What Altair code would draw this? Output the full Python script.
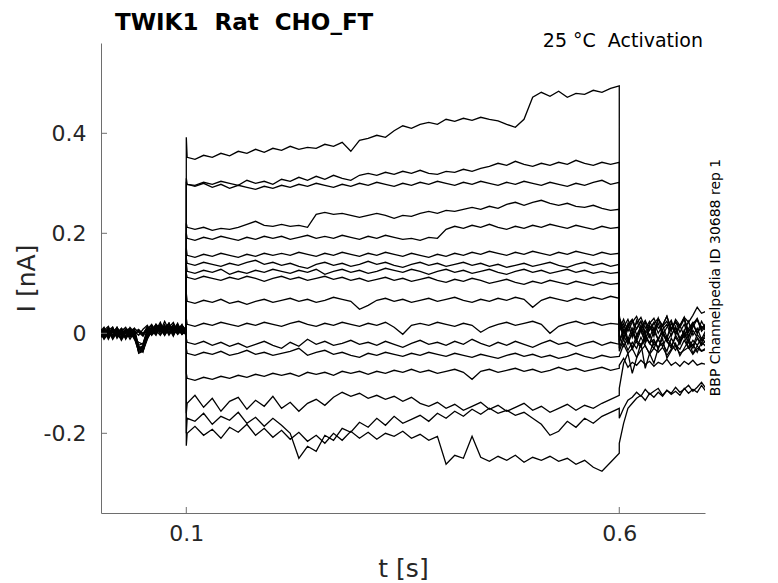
import altair as alt
import pandas as pd

TITLE = "TWIK1\u00a0\u00a0Rat\u00a0\u00a0CHO_FT"
SUBTITLE = "25 \u00b0C\u00a0\u00a0Activation"
SIDE = "BBP Channelpedia ID 30688 rep 1"

X_TICKS = [0.1, 0.6]
Y_TICKS = [-0.2, 0.0, 0.2, 0.4]

# sample times: pre-step (21), step (52), post-step (21)
T_PRE = [0.000, 0.005, 0.010, 0.015, 0.020, 0.025, 0.030, 0.035, 0.040, 0.045, 0.050,
         0.055, 0.060, 0.065, 0.070, 0.075, 0.080, 0.085, 0.090, 0.095, 0.100]
T_STEP = [0.100, 0.101,
          0.11, 0.12, 0.13, 0.14, 0.15, 0.16, 0.17, 0.18, 0.19, 0.20,
          0.21, 0.22, 0.23, 0.24, 0.25, 0.26, 0.27, 0.28, 0.29, 0.30,
          0.31, 0.32, 0.33, 0.34, 0.35, 0.36, 0.37, 0.38, 0.39, 0.40,
          0.41, 0.42, 0.43, 0.44, 0.45, 0.46, 0.47, 0.48, 0.49, 0.50,
          0.51, 0.52, 0.53, 0.54, 0.55, 0.56, 0.57, 0.58, 0.59, 0.60]
T_POST = [0.600, 0.605, 0.610, 0.615, 0.620, 0.625, 0.630, 0.635, 0.640, 0.645, 0.650,
          0.655, 0.660, 0.665, 0.670, 0.675, 0.680, 0.685, 0.690, 0.695, 0.700]
T = T_PRE + T_STEP + T_POST

TR01 = [0.004, -0.008, 0.010, -0.004, 0.006, -0.010, 0.002, 0.008, -0.006, -0.030, -0.026,
        0.006, 0.016, -0.002, 0.012, 0.004, 0.020, -0.004, 0.010, 0.002, 0.008,
        0.392, 0.352,
        0.348, 0.356, 0.352, 0.360, 0.355, 0.364, 0.360, 0.368, 0.362, 0.370,
        0.366, 0.374, 0.368, 0.372, 0.370, 0.378, 0.374, 0.382, 0.364, 0.386,
        0.390, 0.396, 0.392, 0.405, 0.415, 0.410, 0.418, 0.422, 0.418, 0.428,
        0.424, 0.430, 0.426, 0.432, 0.428, 0.425, 0.418, 0.412, 0.428, 0.472,
        0.482, 0.474, 0.484, 0.472, 0.480, 0.478, 0.486, 0.482, 0.490, 0.495,
        0.020, -0.010, 0.012, 0.026, -0.004, 0.014, -0.012, 0.008, 0.022, 0.000, 0.016,
        -0.008, 0.010, 0.024, 0.002, 0.018, -0.006, 0.012, 0.028, 0.004, 0.014]

TR02 = [-0.006, 0.008, -0.002, 0.012, -0.010, 0.004, -0.008, 0.006, 0.000, 0.004, -0.004,
        0.014, 0.002, 0.018, 0.006, -0.002, 0.012, 0.022, 0.004, 0.010, -0.002,
        0.300, 0.298,
        0.296, 0.302, 0.298, 0.304, 0.300, 0.296, 0.306, 0.300, 0.304, 0.298,
        0.308, 0.304, 0.312, 0.306, 0.314, 0.308, 0.316, 0.310, 0.306, 0.316,
        0.320, 0.316, 0.322, 0.318, 0.324, 0.320, 0.326, 0.320, 0.318, 0.324,
        0.322, 0.328, 0.324, 0.330, 0.334, 0.340, 0.336, 0.344, 0.338, 0.334,
        0.340, 0.336, 0.342, 0.338, 0.346, 0.340, 0.336, 0.342, 0.338, 0.342,
        0.030, 0.004, 0.018, 0.028, 0.008, 0.024, 0.002, 0.020, 0.030, 0.010, 0.016,
        0.034, 0.006, 0.022, 0.012, 0.028, 0.002, 0.018, 0.030, 0.008, 0.020]

TR03 = [0.010, -0.004, 0.006, -0.012, 0.002, 0.008, -0.006, 0.004, -0.010, -0.036, -0.032,
        -0.006, 0.010, 0.000, 0.014, -0.004, 0.008, 0.016, -0.002, 0.006, 0.012,
        0.310, 0.298,
        0.294, 0.300, 0.292, 0.298, 0.290, 0.296, 0.292, 0.288, 0.294, 0.290,
        0.296, 0.292, 0.298, 0.294, 0.300, 0.296, 0.292, 0.298, 0.294, 0.300,
        0.296, 0.302, 0.298, 0.294, 0.300, 0.296, 0.302, 0.298, 0.304, 0.300,
        0.296, 0.302, 0.298, 0.304, 0.300, 0.296, 0.302, 0.298, 0.304, 0.300,
        0.296, 0.302, 0.298, 0.294, 0.300, 0.296, 0.302, 0.306, 0.298, 0.302,
        -0.014, 0.008, -0.018, 0.002, -0.010, 0.012, -0.004, -0.020, 0.004, -0.012, 0.006,
        -0.016, -0.002, 0.010, -0.014, 0.000, -0.018, 0.006, -0.008, -0.020, 0.002]

TR04 = [-0.010, 0.002, -0.006, 0.008, -0.002, -0.012, 0.006, -0.004, 0.010, 0.002, -0.006,
        0.008, 0.018, 0.004, 0.010, -0.004, 0.014, 0.006, 0.020, -0.002, 0.004,
        0.220, 0.212,
        0.208, 0.212, 0.206, 0.210, 0.208, 0.212, 0.218, 0.224, 0.216, 0.214,
        0.218, 0.214, 0.216, 0.212, 0.238, 0.242, 0.238, 0.240, 0.236, 0.232,
        0.236, 0.240, 0.236, 0.230, 0.236, 0.234, 0.240, 0.244, 0.240, 0.246,
        0.244, 0.248, 0.252, 0.248, 0.254, 0.250, 0.258, 0.262, 0.256, 0.262,
        0.266, 0.260, 0.256, 0.260, 0.254, 0.252, 0.256, 0.250, 0.246, 0.248,
        0.036, -0.014, 0.020, -0.008, 0.026, 0.004, -0.016, 0.016, -0.006, 0.030, 0.002,
        -0.012, 0.022, -0.004, 0.014, 0.032, -0.010, 0.018, 0.000, 0.024, 0.008]

TR05 = [0.002, 0.012, -0.008, 0.004, -0.004, 0.010, -0.010, 0.000, 0.006, -0.028, -0.034,
        -0.010, 0.004, 0.016, -0.002, 0.008, 0.000, 0.012, 0.006, 0.018, -0.004,
        0.200, 0.190,
        0.186, 0.192, 0.188, 0.194, 0.190, 0.186, 0.192, 0.188, 0.194, 0.190,
        0.194, 0.188, 0.192, 0.196, 0.190, 0.194, 0.190, 0.196, 0.192, 0.188,
        0.194, 0.190, 0.196, 0.192, 0.188, 0.190, 0.186, 0.192, 0.190, 0.208,
        0.214, 0.210, 0.216, 0.212, 0.218, 0.212, 0.208, 0.214, 0.210, 0.216,
        0.212, 0.218, 0.214, 0.210, 0.216, 0.212, 0.208, 0.214, 0.210, 0.212,
        -0.030, -0.004, -0.022, 0.002, -0.018, -0.028, -0.006, -0.020, -0.012, -0.032, -0.002,
        -0.016, -0.026, -0.008, -0.022, 0.000, -0.018, -0.030, -0.010, -0.024, -0.014]

TR06 = [-0.004, 0.006, 0.014, -0.006, 0.008, -0.002, 0.004, -0.012, 0.002, 0.008, -0.002,
        0.010, -0.004, 0.006, 0.022, 0.002, 0.010, -0.006, 0.014, 0.004, 0.010,
        0.170, 0.156,
        0.152, 0.158, 0.154, 0.160, 0.156, 0.152, 0.158, 0.154, 0.160, 0.156,
        0.160, 0.156, 0.162, 0.158, 0.154, 0.160, 0.156, 0.162, 0.158, 0.154,
        0.160, 0.156, 0.162, 0.158, 0.154, 0.160, 0.156, 0.152, 0.158, 0.154,
        0.160, 0.156, 0.162, 0.158, 0.164, 0.160, 0.156, 0.162, 0.158, 0.164,
        0.160, 0.156, 0.162, 0.158, 0.164, 0.160, 0.156, 0.162, 0.158, 0.160,
        0.008, 0.028, 0.004, 0.022, 0.034, 0.012, 0.026, 0.006, 0.020, 0.030, 0.014,
        0.024, 0.004, 0.028, 0.016, 0.032, 0.022, 0.036, 0.052, 0.040, 0.044]

TR07 = [0.008, -0.010, 0.002, 0.006, -0.008, 0.004, 0.012, -0.004, -0.008, -0.032, -0.024,
        0.004, -0.002, 0.010, 0.004, 0.018, -0.002, 0.008, 0.002, 0.012, 0.000,
        0.150, 0.140,
        0.136, 0.142, 0.138, 0.134, 0.140, 0.136, 0.142, 0.146, 0.138, 0.142,
        0.136, 0.140, 0.134, 0.130, 0.138, 0.142, 0.136, 0.140, 0.134, 0.138,
        0.144, 0.138, 0.142, 0.136, 0.132, 0.138, 0.142, 0.136, 0.140, 0.134,
        0.138, 0.142, 0.136, 0.140, 0.134, 0.138, 0.132, 0.136, 0.140, 0.134,
        0.138, 0.142, 0.136, 0.132, 0.138, 0.142, 0.136, 0.140, 0.134, 0.138,
        -0.006, -0.026, -0.010, -0.032, -0.014, -0.024, -0.004, -0.020, -0.030, -0.012, -0.026,
        -0.008, -0.022, -0.034, -0.016, -0.006, -0.028, -0.014, -0.024, -0.010, -0.020]

TR08 = [-0.012, 0.004, -0.004, 0.010, 0.000, -0.008, 0.006, 0.010, -0.004, 0.006, 0.000,
        0.012, 0.006, -0.004, 0.014, 0.008, 0.002, 0.016, 0.008, -0.002, 0.014,
        0.140, 0.124,
        0.120, 0.126, 0.122, 0.128, 0.118, 0.124, 0.120, 0.126, 0.122, 0.128,
        0.124, 0.120, 0.126, 0.122, 0.128, 0.118, 0.124, 0.128, 0.122, 0.126,
        0.120, 0.124, 0.130, 0.126, 0.122, 0.128, 0.124, 0.118, 0.124, 0.128,
        0.122, 0.126, 0.120, 0.124, 0.128, 0.122, 0.118, 0.124, 0.128, 0.122,
        0.126, 0.120, 0.124, 0.128, 0.122, 0.126, 0.120, 0.124, 0.120, 0.122,
        0.022, 0.000, 0.016, -0.006, 0.010, 0.024, -0.002, 0.014, 0.004, 0.020, -0.004,
        0.012, 0.026, 0.002, 0.016, -0.006, 0.010, 0.022, 0.000, 0.014, 0.006]

TR09 = [0.006, -0.006, 0.008, -0.010, 0.004, 0.000, -0.006, 0.012, 0.002, -0.024, -0.020,
        0.002, 0.012, 0.006, -0.004, 0.010, 0.020, 0.000, 0.006, 0.014, 0.004,
        0.120, 0.112,
        0.108, 0.114, 0.110, 0.106, 0.112, 0.108, 0.114, 0.110, 0.104, 0.110,
        0.114, 0.108, 0.112, 0.106, 0.110, 0.114, 0.108, 0.112, 0.106, 0.110,
        0.104, 0.108, 0.112, 0.106, 0.110, 0.104, 0.108, 0.112, 0.106, 0.102,
        0.108, 0.104, 0.110, 0.106, 0.100, 0.104, 0.108, 0.102, 0.098, 0.104,
        0.100, 0.106, 0.102, 0.098, 0.104, 0.100, 0.096, 0.102, 0.098, 0.100,
        -0.018, 0.004, -0.012, -0.028, -0.006, 0.008, -0.020, -0.002, -0.024, -0.010, 0.002,
        -0.016, -0.030, -0.004, -0.018, 0.006, -0.012, -0.026, -0.002, -0.014, -0.008]

TR10 = [-0.002, 0.010, -0.008, 0.002, 0.012, -0.006, 0.008, -0.002, 0.004, -0.004, 0.008,
        0.016, 0.000, 0.010, 0.004, 0.024, 0.006, 0.012, -0.002, 0.008, 0.002,
        0.080, 0.064,
        0.060, 0.066, 0.062, 0.068, 0.060, 0.064, 0.058, 0.064, 0.068, 0.062,
        0.066, 0.070, 0.064, 0.068, 0.062, 0.066, 0.072, 0.068, 0.064, 0.048,
        0.056, 0.066, 0.070, 0.064, 0.068, 0.062, 0.066, 0.070, 0.064, 0.068,
        0.072, 0.066, 0.062, 0.068, 0.064, 0.070, 0.066, 0.072, 0.068, 0.052,
        0.066, 0.072, 0.068, 0.064, 0.070, 0.066, 0.072, 0.068, 0.074, 0.070,
        0.004, 0.020, -0.012, 0.010, -0.016, 0.006, 0.022, -0.008, 0.012, -0.014, 0.008,
        0.018, -0.006, 0.014, -0.010, 0.004, 0.024, -0.004, 0.010, -0.012, 0.006]

TR11 = [0.004, -0.012, 0.000, 0.008, -0.004, 0.006, -0.010, 0.004, 0.010, -0.026, -0.030,
        -0.004, 0.008, 0.002, 0.016, 0.000, 0.010, 0.004, 0.018, 0.006, -0.004,
        0.030, 0.018,
        0.014, 0.020, 0.016, 0.022, 0.018, 0.014, 0.020, 0.016, 0.022, 0.018,
        0.014, 0.020, 0.024, 0.018, 0.014, 0.020, 0.016, 0.022, 0.018, 0.014,
        0.020, 0.016, 0.022, 0.012, -0.002, 0.016, 0.020, 0.016, 0.022, 0.018,
        0.014, 0.020, 0.016, 0.002, 0.012, 0.018, 0.022, 0.016, 0.020, 0.024,
        0.018, 0.000, 0.014, 0.020, 0.024, 0.018, 0.022, 0.016, 0.020, 0.018,
        -0.036, -0.012, -0.034, -0.018, -0.030, -0.008, -0.026, -0.040, -0.016, -0.028, -0.020,
        -0.036, -0.010, -0.024, -0.032, -0.014, -0.030, -0.022, -0.038, -0.018, -0.026]

TR12 = [-0.008, 0.002, 0.010, -0.004, 0.006, -0.014, 0.000, 0.008, -0.006, -0.038, -0.034,
        0.000, 0.006, 0.014, 0.002, 0.012, -0.004, 0.010, 0.002, 0.016, 0.006,
        -0.010, -0.018,
        -0.022, -0.016, -0.024, -0.018, -0.026, -0.020, -0.028, -0.022, -0.016, -0.024,
        -0.030, -0.018, -0.026, -0.012, -0.022, -0.016, -0.024, -0.020, -0.014, -0.022,
        -0.018, -0.024, -0.016, -0.022, -0.028, -0.020, -0.014, -0.022, -0.018, -0.024,
        -0.016, -0.022, -0.012, -0.020, -0.026, -0.018, -0.024, -0.016, -0.022, -0.028,
        -0.020, -0.014, -0.022, -0.018, -0.026, -0.020, -0.016, -0.024, -0.018, -0.022,
        0.030, 0.012, 0.028, 0.004, 0.020, 0.032, 0.010, 0.024, 0.006, 0.028, 0.016,
        0.034, 0.008, 0.022, 0.014, 0.030, 0.004, 0.020, 0.026, 0.010, 0.018]

TR13 = [0.012, -0.002, 0.004, -0.008, 0.010, 0.002, -0.006, 0.006, -0.012, -0.018, -0.022,
        0.010, -0.002, 0.008, 0.018, 0.004, 0.012, -0.002, 0.010, 0.004, 0.012,
        -0.030, -0.040,
        -0.044, -0.038, -0.042, -0.036, -0.044, -0.040, -0.034, -0.042, -0.038, -0.044,
        -0.040, -0.036, -0.030, -0.044, -0.038, -0.034, -0.042, -0.038, -0.044, -0.048,
        -0.040, -0.044, -0.038, -0.042, -0.046, -0.040, -0.044, -0.038, -0.042, -0.046,
        -0.040, -0.044, -0.048, -0.042, -0.046, -0.050, -0.044, -0.040, -0.046, -0.042,
        -0.048, -0.044, -0.050, -0.046, -0.040, -0.046, -0.050, -0.044, -0.048, -0.046,
        -0.046, -0.022, -0.040, -0.030, -0.048, -0.034, -0.024, -0.042, -0.030, -0.038, -0.028,
        -0.044, -0.032, -0.026, -0.040, -0.034, -0.028, -0.042, -0.030, -0.036, -0.032]

TR14 = [-0.006, 0.006, -0.012, 0.004, -0.002, 0.010, 0.004, -0.008, 0.002, -0.034, -0.028,
        -0.006, 0.014, 0.004, 0.010, -0.002, 0.016, 0.008, 0.000, 0.012, 0.008,
        -0.080, -0.090,
        -0.094, -0.088, -0.092, -0.086, -0.090, -0.084, -0.088, -0.082, -0.086, -0.080,
        -0.084, -0.080, -0.086, -0.078, -0.082, -0.078, -0.084, -0.076, -0.080, -0.076,
        -0.082, -0.076, -0.080, -0.074, -0.078, -0.072, -0.078, -0.074, -0.080, -0.076,
        -0.072, -0.078, -0.092, -0.076, -0.072, -0.078, -0.074, -0.070, -0.076, -0.072,
        -0.078, -0.074, -0.068, -0.074, -0.070, -0.076, -0.072, -0.068, -0.074, -0.070,
        -0.064, -0.050, -0.068, -0.058, -0.064, -0.054, -0.062, -0.056, -0.066, -0.058, -0.062,
        -0.052, -0.064, -0.058, -0.066, -0.056, -0.062, -0.054, -0.064, -0.060, -0.062]

TR15 = [0.002, -0.010, 0.006, 0.012, -0.006, 0.000, 0.008, -0.006, 0.006, -0.040, -0.036,
        -0.012, 0.006, 0.018, 0.008, 0.000, 0.010, 0.002, 0.014, -0.002, 0.006,
        -0.160, -0.140,
        -0.124, -0.148, -0.130, -0.156, -0.136, -0.128, -0.152, -0.134, -0.146, -0.126,
        -0.150, -0.138, -0.156, -0.140, -0.132, -0.144, -0.128, -0.118, -0.126, -0.120,
        -0.130, -0.124, -0.132, -0.126, -0.136, -0.128, -0.140, -0.146, -0.138, -0.150,
        -0.142, -0.154, -0.146, -0.138, -0.152, -0.144, -0.156, -0.148, -0.140, -0.154,
        -0.146, -0.158, -0.150, -0.142, -0.154, -0.144, -0.150, -0.140, -0.132, -0.124,
        -0.110, -0.060, -0.040, -0.080, -0.050, -0.020, -0.070, -0.040, -0.060, -0.030, -0.010,
        -0.050, -0.035, -0.020, -0.045, -0.030, -0.015, -0.040, -0.025, -0.035, -0.030]

TR16 = [-0.010, 0.004, 0.000, -0.006, 0.012, -0.004, 0.006, 0.002, -0.008, -0.030, -0.038,
        -0.002, 0.010, 0.000, 0.012, 0.006, 0.020, 0.004, 0.008, 0.016, 0.002,
        -0.200, -0.170,
        -0.176, -0.160, -0.182, -0.166, -0.174, -0.158, -0.180, -0.168, -0.186, -0.170,
        -0.184, -0.200, -0.250, -0.226, -0.236, -0.204, -0.214, -0.190, -0.198, -0.178,
        -0.188, -0.170, -0.184, -0.166, -0.180, -0.172, -0.164, -0.176, -0.160, -0.170,
        -0.156, -0.166, -0.152, -0.162, -0.150, -0.160, -0.154, -0.164, -0.158, -0.170,
        -0.182, -0.204, -0.196, -0.176, -0.188, -0.170, -0.180, -0.166, -0.158, -0.150,
        -0.170, -0.150, -0.134, -0.128, -0.118, -0.126, -0.112, -0.122, -0.116, -0.110, -0.124,
        -0.114, -0.120, -0.108, -0.118, -0.112, -0.104, -0.116, -0.108, -0.098, -0.110]

TR17 = [0.006, -0.004, 0.012, -0.008, 0.002, 0.008, -0.012, 0.004, 0.000, -0.028, -0.032,
        -0.008, 0.002, 0.012, 0.006, 0.014, 0.000, 0.018, 0.004, 0.010, 0.006,
        -0.225, -0.200,
        -0.186, -0.204, -0.192, -0.210, -0.188, -0.198, -0.182, -0.204, -0.190, -0.208,
        -0.194, -0.212, -0.198, -0.216, -0.204, -0.220, -0.200, -0.214, -0.196, -0.210,
        -0.198, -0.212, -0.200, -0.206, -0.196, -0.210, -0.202, -0.214, -0.206, -0.262,
        -0.244, -0.250, -0.206, -0.248, -0.256, -0.246, -0.254, -0.244, -0.258, -0.248,
        -0.254, -0.246, -0.256, -0.250, -0.262, -0.254, -0.268, -0.276, -0.258, -0.240,
        -0.220, -0.180, -0.150, -0.140, -0.130, -0.124, -0.134, -0.120, -0.128, -0.118, -0.126,
        -0.114, -0.122, -0.116, -0.124, -0.110, -0.120, -0.112, -0.118, -0.104, -0.116]

TRACES = [TR01, TR02, TR03, TR04, TR05, TR06, TR07, TR08, TR09,
          TR10, TR11, TR12, TR13, TR14, TR15, TR16, TR17]

rows = []
for k, tr in enumerate(TRACES):
    assert len(tr) == len(T), (k, len(tr), len(T))
    for i, (t, v) in enumerate(zip(T, tr)):
        rows.append({"trace": k, "idx": i, "t": t, "I": v})
df = pd.DataFrame(rows)

FONT = "DejaVu Sans"
AX = "#6e6e6e"
LAB = "#262626"

xs = alt.Scale(domain=[0.0015, 0.699], nice=False, zero=False)
ys = alt.Scale(domain=[-0.3594, 0.5806], nice=False, zero=False)

lines = alt.Chart(df).mark_line(color="black", strokeWidth=1.3, clip=True).encode(
    x=alt.X("t:Q", scale=xs, axis=alt.Axis(
        values=X_TICKS, format=".1f", title="t [s]", grid=False, ticks=False,
        labelFont=FONT, labelFontSize=22, labelColor=LAB, labelPadding=10,
        labelFlush=False, domainColor=AX, domainWidth=1,
        titleFont=FONT, titleFontSize=25, titleFontWeight="normal", titleColor=LAB,
        titleY=63, titleBaseline="alphabetic")),
    y=alt.Y("I:Q", scale=ys, axis=alt.Axis(
        values=Y_TICKS, title="I [nA]", grid=False, ticks=False,
        labelExpr="datum.value == 0 ? '0' : (datum.value < 0 ? '-' + format(-datum.value, '.1f') : format(datum.value, '.1f'))",
        labelFont=FONT, labelFontSize=22, labelColor=LAB, labelPadding=15,
        labelFlush=False, domainColor=AX, domainWidth=1,
        titleFont=FONT, titleFontSize=25, titleFontWeight="normal", titleColor=LAB,
        titleX=-67, titleBaseline="alphabetic")),
    detail="trace:N",
    order="idx:Q",
)

ytick = alt.Chart(pd.DataFrame({"I": Y_TICKS})).mark_rule(color=AX, strokeWidth=1).encode(
    y=alt.Y("I:Q", scale=ys), x=alt.value(0), x2=alt.value(6))
xtick = alt.Chart(pd.DataFrame({"t": X_TICKS})).mark_rule(color=AX, strokeWidth=1).encode(
    x=alt.X("t:Q", scale=xs), y=alt.value(464), y2=alt.value(470))

title = alt.Chart(pd.DataFrame({"s": [TITLE]})).mark_text(
    font=FONT, fontSize=23, fontWeight="bold", color="black", align="left",
    baseline="alphabetic").encode(text="s:N", x=alt.value(14), y=alt.value(-13.5))
sub = alt.Chart(pd.DataFrame({"s": [SUBTITLE]})).mark_text(
    font=FONT, fontSize=19, color="black", align="right",
    baseline="alphabetic").encode(text="s:N", x=alt.value(602), y=alt.value(4))
side = alt.Chart(pd.DataFrame({"s": [SIDE]})).mark_text(
    font=FONT, fontSize=14, color="black", align="center", angle=270,
    baseline="alphabetic").encode(text="s:N", x=alt.value(619), y=alt.value(234.5))

chart = alt.layer(lines, ytick, xtick, title, sub, side).properties(
    width=604, height=470,
    padding={"left": 93, "top": 35, "right": 65, "bottom": 68},
    autosize=alt.AutoSizeParams(type="none"),
).configure_view(stroke=None)

chart.save("out.html", embed_options={"renderer": "svg", "actions": False})
